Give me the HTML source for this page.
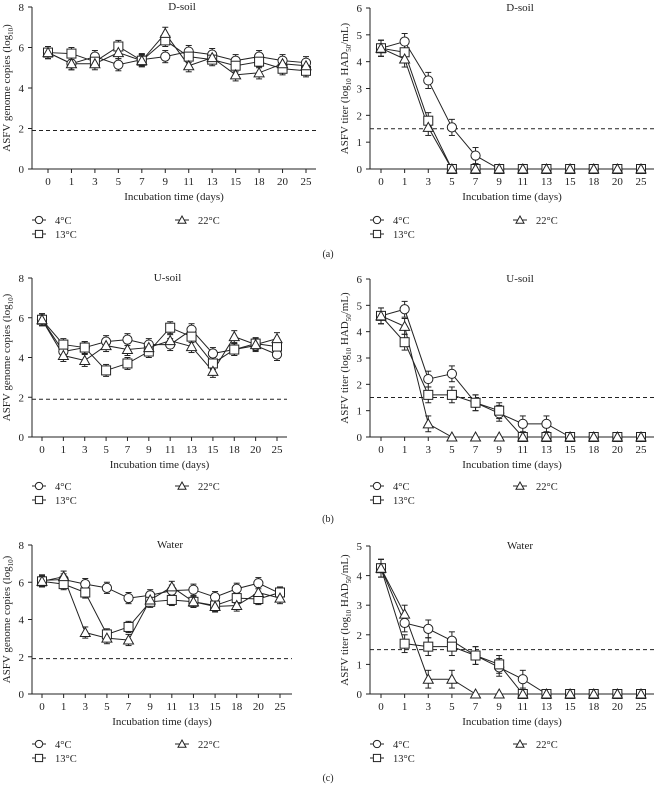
<!DOCTYPE html>
<html><head><meta charset="utf-8"><style>
html,body{margin:0;padding:0;background:#fff}
svg{display:block;font-family:"Liberation Serif",serif}
</style></head><body>
<svg id="fig" width="654" height="785" viewBox="0 0 654 785"></svg>
<script>
const categories=["0","1","3","5","7","9","11","13","15","18","20","25"];
const seriesNames=["4°C","13°C","22°C"];
// panel a
const aL4=[5.75,5.2,5.55,5.15,5.4,5.55,5.8,5.65,5.35,5.55,5.35,5.25];
const aL13=[5.75,5.7,5.3,6.05,5.35,6.35,5.55,5.4,5.1,5.3,4.95,4.85];
const aL22=[5.75,5.2,5.2,5.75,5.35,6.7,5.1,5.5,4.65,4.75,5.2,5.1];
const aR4=[4.5,4.75,3.3,1.55,0.5,0,0,0,0,0,0,0];
const aR13=[4.5,4.35,1.8,0,0,0,0,0,0,0,0,0];
const aR22=[4.5,4.1,1.55,0,0,0,0,0,0,0,0,0];
// panel b
const bL4=[5.9,4.3,4.5,4.8,4.9,4.65,4.65,5.4,4.2,4.4,4.6,4.15];
const bL13=[5.9,4.65,4.5,3.35,3.7,4.3,5.5,5.05,3.7,4.4,4.7,4.55];
const bL22=[5.9,4.1,3.85,4.6,4.4,4.5,4.85,4.55,3.3,5.05,4.65,4.95];
const bR4=[4.6,4.85,2.2,2.4,1.3,0.9,0.5,0.5,0,0,0,0];
const bR13=[4.6,3.6,1.6,1.6,1.3,1.0,0,0,0,0,0,0];
const bR22=[4.6,4.2,0.5,0,0,0,0,0,0,0,0,0];
// panel c
const cL4=[6.1,6.15,5.9,5.7,5.15,5.3,5.55,5.6,5.2,5.65,5.95,5.4];
const cL13=[6.05,5.9,5.45,3.2,3.6,4.95,5.05,4.95,4.75,5.15,5.1,5.45];
const cL22=[6.05,6.3,3.3,3.0,2.9,5.05,5.75,4.95,4.7,4.75,5.45,5.15];
const cR4=[4.25,2.4,2.2,1.8,1.3,0.9,0.5,0,0,0,0,0];
const cR13=[4.25,1.7,1.6,1.6,1.3,1.0,0,0,0,0,0,0];
const cR22=[4.25,2.7,0.5,0.5,0,0,0,0,0,0,0,0];
const leftTicks=[0,2,4,6,8];
const rightTicks6=[0,1,2,3,4,5,6];
const rightTicks5=[0,1,2,3,4,5];
const leftThreshold=1.9, rightThreshold=1.5;
const errL=0.3, errR=0.3;

const NS="http://www.w3.org/2000/svg";
const svg=document.getElementById('fig');
function mk(tag,attrs,parent){const e=document.createElementNS(NS,tag);for(const k in attrs)e.setAttribute(k,attrs[k]);(parent||svg).appendChild(e);return e;}
function txt(x,y,s,attrs,parent){const t=mk('text',Object.assign({x:x,y:y,'font-size':11,fill:'#222','text-anchor':'middle'},attrs||{}),parent);t.textContent=s;return t;}

function marker(g,kind,x,y,s){
  s=s||1;
  let m;
  if(kind===0)m=mk('circle',{cx:x,cy:y,r:4.6*s,fill:'#fff',stroke:'#222','stroke-width':1},g);
  else if(kind===1)m=mk('rect',{x:x-4.5*s,y:y-4.5*s,width:9*s,height:9*s,fill:'#fff',stroke:'#222','stroke-width':1},g);
  else m=mk('polygon',{points:(x)+','+(y-5*s)+' '+(x+5*s)+','+(y+4*s)+' '+(x-5*s)+','+(y+4*s),fill:'#fff',stroke:'#222','stroke-width':1},g);
  return m;
}

function panel(p){
  const g=mk('g',{});
  
  
  const ymax=p.ticks[p.ticks.length-1];
  const yS=v=>p.y0+(p.yTop-p.y0)*v/ymax;
  const xS=i=>p.x0+(p.x25-p.x0)*i/(categories.length-1);
  const ya=mk('line',{x1:p.ax,y1:p.yTop,x2:p.ax,y2:p.y0,stroke:'#222','stroke-width':1},g);
  
  const xa=mk('line',{x1:p.ax,y1:p.y0,x2:p.axEnd,y2:p.y0,stroke:'#222','stroke-width':1},g);
  
  p.ticks.forEach(v=>{
    mk('line',{x1:p.ax-4,y1:yS(v),x2:p.ax,y2:yS(v),stroke:'#222'},g);
    const t=txt(p.ax-8,yS(v)+4,String(v),{'text-anchor':'end'},g);
    
  });
  categories.forEach((c,i)=>{
    mk('line',{x1:xS(i),y1:p.y0,x2:xS(i),y2:p.y0+4,stroke:'#222'},g);
    const t=txt(xS(i),p.y0+16,c,{},g);
    
  });
  const xt=txt((p.ax+p.axEnd)/2,p.y0+31,'Incubation time (days)',{},g);
  
  const yt=mk('text',{x:0,y:0,'font-size':11,fill:'#222','text-anchor':'middle',transform:'translate('+(p.ax-22)+','+((p.yTop+p.y0)/2)+') rotate(-90)'},g);
  
  if(p.right){yt.innerHTML='ASFV titer (log<tspan font-size="7" dy="3">10</tspan><tspan dy="-3"> HAD</tspan><tspan font-size="7" dy="3">50</tspan><tspan dy="-3">/mL)</tspan>';}
  else{yt.innerHTML='ASFV genome copies (log<tspan font-size="7" dy="3">10</tspan><tspan dy="-3">)</tspan>';}
  const ti=txt((p.ax+p.axEnd)/2+8,p.yTop+3,p.title,{},g);
  
  const th=mk('line',{x1:p.ax,y1:yS(p.thr),x2:p.axEnd,y2:yS(p.thr),stroke:'#222','stroke-dasharray':'4,3'},g);
  
  p.series.forEach((vals,k)=>{
    const sg=mk('g',{},g);
    
    
    vals.forEach((v,i)=>{ if(v>0){
      const e=p.err;
      mk('line',{x1:xS(i),y1:yS(v+e),x2:xS(i),y2:yS(Math.max(0,v-e)),stroke:'#222'},sg);
      mk('line',{x1:xS(i)-3,y1:yS(v+e),x2:xS(i)+3,y2:yS(v+e),stroke:'#222'},sg);
      mk('line',{x1:xS(i)-3,y1:yS(Math.max(0,v-e)),x2:xS(i)+3,y2:yS(Math.max(0,v-e)),stroke:'#222'},sg);
    }});
    const pts=vals.map((v,i)=>xS(i)+','+yS(v)).join(' ');
    const pl=mk('polyline',{points:pts,fill:'none',stroke:'#222','stroke-width':1},sg);
    
  });
  p.series.forEach((vals,k)=>{
    vals.forEach((v,i)=>{
      const m=marker(g,k,xS(i),yS(v));
      
      
    });
  });
  const lg=mk('g',{},g);
  
  const pos=[[p.ax,p.legY],[p.ax,p.legY+14],[p.ax+143,p.legY]];
  pos.forEach((q,k)=>{
    const eg=mk('g',{},lg);
    
    mk('line',{x1:q[0],y1:q[1],x2:q[0]+14,y2:q[1],stroke:'#222'},eg);
    marker(eg,k,q[0]+7,q[1],0.8);
    txt(q[0]+23,q[1]+4,seriesNames[k],{'text-anchor':'start','font-size':10.5},eg);
  });
}

const rows=[
 {L:[aL4,aL13,aL22],R:[aR4,aR13,aR22],yTop:7,y0:169,legY:220,lab:'(a)',labY:257,title:['D-soil','D-soil'],lx0:48,lx25:306,lEnd:316,rt:rightTicks6},
 {L:[bL4,bL13,bL22],R:[bR4,bR13,bR22],yTop:278,y0:437,legY:486,lab:'(b)',labY:522,title:['U-soil','U-soil'],lx0:42,lx25:277,lEnd:287,rt:rightTicks6},
 {L:[cL4,cL13,cL22],R:[cR4,cR13,cR22],yTop:545,y0:694,legY:744,lab:'(c)',labY:781,title:['Water','Water'],lx0:42,lx25:280,lEnd:292,rt:rightTicks5}
];
rows.forEach((r,ri)=>{
  panel({name:'panel-'+'abc'[ri]+'-genome-copies',right:false,ax:32,axEnd:r.lEnd,x0:r.lx0,x25:r.lx25,yTop:r.yTop,y0:r.y0,ticks:leftTicks,thr:leftThreshold,err:errL,series:r.L,legY:r.legY,title:r.title[0]});
  panel({name:'panel-'+'abc'[ri]+'-titer',right:true,ax:370,axEnd:654,x0:381,x25:641,yTop:r.yTop+1,y0:r.y0,ticks:r.rt,thr:rightThreshold,err:errR,series:r.R,legY:r.legY,title:r.title[1]});
  const t=txt(328,r.labY,r.lab,{'font-size':10});
  
  
});
</script>
</body></html>
